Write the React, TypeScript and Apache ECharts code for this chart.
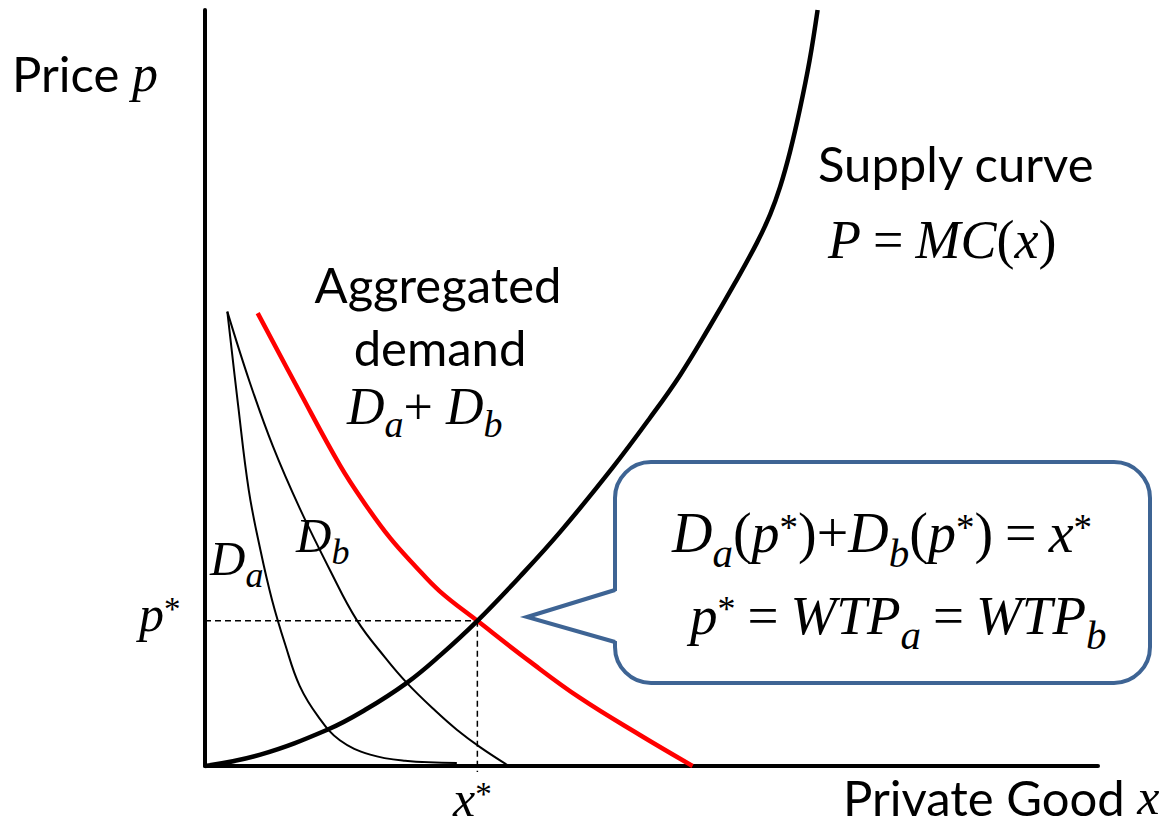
import React, { useEffect, useRef } from 'react';
import * as echarts from 'echarts';

// Supply curve P = MC(x)
const supplyX = [0, 6.2, 13.7, 17.9, 22.6, 26.3, 30.5, 35.3, 39.8, 45.6, 49.8, 53.2, 56.5, 59.3, 61.8, 63.3, 64.4, 65.5, 66.6, 67.7, 68.6];
const supplyY = [0, 1.5, 4.8, 7.4, 11.0, 14.6, 19.2, 25.1, 31.0, 39.4, 46.0, 51.7, 58.1, 63.8, 69.2, 73.0, 76.6, 81.2, 86.8, 93.3, 100.0];

// Aggregated demand Da + Db
const aggX = [5.9, 10.6, 15.1, 17.9, 20.7, 23.5, 26.3, 30.5, 36.4, 42.0, 48.7, 54.6];
const aggY = [59.9, 49.5, 39.8, 34.7, 30.2, 26.5, 23.1, 19.2, 13.8, 9.0, 4.1, 0];

// Individual demand Da
const daX = [2.5, 3.7, 4.9, 6.2, 7.5, 9.0, 10.6, 12.7, 15.1, 18.5, 22.4, 28.2];
const daY = [60.1, 47.8, 36.5, 28.6, 22.0, 16.0, 10.6, 6.5, 3.4, 1.5, 0.7, 0.4];

// Individual demand Db
const dbX = [2.5, 5.0, 7.6, 10.6, 14.0, 17.0, 20.2, 22.6, 25.8, 28.2, 30.8, 33.9];
const dbY = [60.1, 50.8, 42.3, 34.1, 25.9, 19.3, 14.3, 11.0, 7.3, 4.8, 2.5, 0.1];

// Equilibrium
const eqX = 30.5;
const eqY = 19.2;

const zip = (xs: number[], ys: number[]) => xs.map((x, i) => [x, ys[i]]);

const SERIF = '"Liberation Serif", "Times New Roman", serif';
const SANS = 'Lato, "Open Sans", sans-serif';
const SANS_SIZE = 49;

const rich = (size: number) => ({
  s: { fontFamily: SANS, fontSize: SANS_SIZE, verticalAlign: 'middle', fill: '#000' },
  i: { fontFamily: SERIF, fontStyle: 'italic', fontSize: size, verticalAlign: 'middle', fill: '#000' },
  n: { fontFamily: SERIF, fontSize: size, verticalAlign: 'middle', fill: '#000' },
  eq: {
    fontFamily: SERIF,
    fontSize: size,
    verticalAlign: 'middle',
    padding: [0, Math.round(size * 0.22), 0, Math.round(size * 0.22)],
    fill: '#000',
  },
  sub: {
    fontFamily: SERIF,
    fontStyle: 'italic',
    fontSize: Math.round(size * 0.74),
    verticalAlign: 'middle',
    padding: [Math.round(size * 0.7), 0, 0, 0],
    fill: '#000',
  },
  sup: {
    fontFamily: SERIF,
    fontSize: Math.round(size * 0.66),
    verticalAlign: 'middle',
    padding: [0, 0, Math.round(size * 0.22), 0],
    fill: '#000',
  },
});

const txt = (text: string, x: number, y: number, size: number, align = 'left') => ({
  type: 'text',
  x,
  y,
  z: 100,
  style: {
    text,
    align,
    verticalAlign: 'middle',
    fontFamily: SANS,
    fontSize: SANS_SIZE,
    fill: '#000',
    rich: rich(size),
  },
});

const BOX = '#3E6494';

export default function App() {
  const ref = useRef<HTMLDivElement>(null);
  useEffect(() => {
    if (!ref.current) return;
    const chart = echarts.init(ref.current, undefined, { renderer: 'svg' });
    const axisCommon = {
      type: 'value',
      min: 0,
      max: 100,
      axisLine: { show: true, onZero: false, lineStyle: { color: '#000', width: 4 } },
      axisTick: { show: false },
      axisLabel: { show: false },
      splitLine: { show: false },
    };
    const lineSeries = (data: number[][], color: string, width: number, extra: any = {}) => ({
      type: 'line',
      data,
      smooth: 0.4,
      symbol: 'none',
      clip: false,
      silent: true,
      lineStyle: { color, width, ...extra },
    });
    chart.setOption({
      animation: false,
      backgroundColor: '#fff',
      grid: { left: 205, right: 66, top: 10, bottom: 61 },
      xAxis: axisCommon,
      yAxis: axisCommon,
      series: [
        { ...lineSeries([[0, eqY], [eqX, eqY]], '#000', 1.5, { type: [6, 4] }), smooth: false },
        { ...lineSeries([[eqX, eqY], [eqX, -0.8]], '#000', 1.5, { type: [6, 4] }), smooth: false },
        lineSeries(zip(daX, daY), '#000', 2),
        lineSeries(zip(dbX, dbY), '#000', 2),
        lineSeries(zip(aggX, aggY), '#FF0000', 4.5),
        lineSeries(zip(supplyX, supplyY), '#000', 4.5),
      ],
      graphic: [
        {
          type: 'rect',
          z: 50,
          shape: { x: 615, y: 462, width: 535, height: 221, r: 36 },
          style: { fill: '#fff', stroke: BOX, lineWidth: 4 },
        },
        {
          type: 'polygon',
          z: 51,
          shape: { points: [[620, 590], [529, 617], [620, 642]] },
          style: { fill: '#fff' },
        },
        {
          type: 'polyline',
          z: 52,
          shape: { points: [[615, 590], [527, 617], [615, 642]] },
          style: { stroke: BOX, lineWidth: 4, fill: null },
        },
        txt('{s|Price }{i|p}', 12, 73, 52),
        txt('{s|Supply curve}', 818, 163, 50),
        txt('{i|P}{eq|=}{i|MC}{n|(}{i|x}{n|)}', 828, 240, 54),
        txt('{s|Aggregated}', 438, 284, 50, 'center'),
        txt('{s|demand}', 440, 347, 50, 'center'),
        txt('{i|D}{sub|a}{n|+ }{i|D}{sub|b}', 347, 406, 52),
        txt('{i|D}{sub|a}', 210, 558, 49),
        txt('{i|D}{sub|b}', 296, 535, 49),
        txt('{i|p}{sup|*}', 139, 614, 50),
        txt('{i|x}{sup|*}', 453, 799, 50),
        txt('{s|Private Good }{i|x}', 843, 797, 50),
        txt('{i|D}{sub|a}{n|(}{i|p}{sup|*}{n|)+}{i|D}{sub|b}{n|(}{i|p}{sup|*}{n|)}{eq|=}{i|x}{sup|*}', 672, 533, 56),
        txt('{i|p}{sup|*}{eq|=}{i|WTP}{sub|a}{eq|=}{i|WTP}{sub|b}', 690, 615, 55),
      ],
    });
    return () => chart.dispose();
  }, []);
  return (
    <div
      ref={ref}
      style={{ position: 'absolute', left: 0, top: 0, width: 1164, height: 827, background: '#fff' }}
    />
  );
}
